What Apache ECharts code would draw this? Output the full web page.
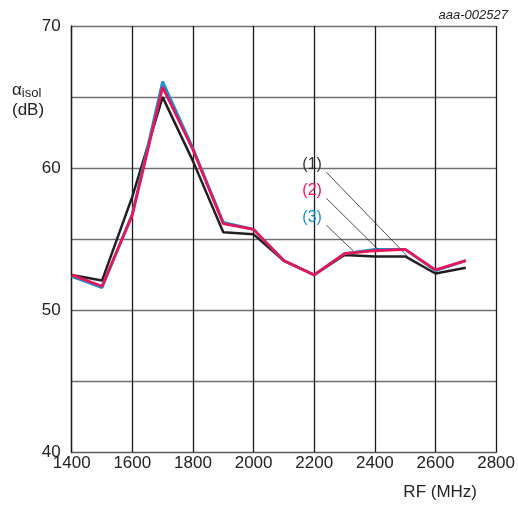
<!DOCTYPE html>
<html>
<head>
<meta charset="utf-8">
<script src="https://cdn.jsdelivr.net/npm/echarts@6/dist/echarts.min.js"></script>
<style>
  html, body { margin: 0; padding: 0; background: #fff; }
  #main { width: 518px; height: 505px; }
</style>
</head>
<body>
<div id="main"></div>
<script>
// RF frequency (MHz)
var freq = [1400, 1500, 1600, 1700, 1800, 1900, 2000, 2100, 2200, 2300, 2400, 2500, 2600, 2700];
// isolation (dB)
var curve1 = [52.5, 52.1, 58.0, 65.0, 60.5, 55.5, 55.35, 53.5, 52.5, 53.9, 53.8, 53.8, 52.6, 53.0];
var curve2 = [52.5, 51.7, 56.7, 65.7, 61.3, 56.1, 55.7, 53.5, 52.5, 54.0, 54.2, 54.3, 52.85, 53.5];
var curve3 = [52.4, 51.6, 56.8, 66.1, 61.4, 56.2, 55.7, 53.5, 52.5, 54.0, 54.3, 54.3, 52.8, 53.5];
var yTickLabels = [40, 50, 60, 70];

// callout labels and leader lines (data coords)
var calloutText = ['(1)', '(2)', '(3)'];
var calloutPos = [[2193, 60.25], [2193, 58.4], [2193, 56.5]];
var leaderFrom = [[2240, 59.72], [2240, 57.89], [2240, 56.0]];
var leaderTo = [[2509, 53.78], [2416, 54.18], [2329, 54.18]];

var colors = ['#231f20', '#e5175a', '#1b8fd2'];
var labelColors = ['#333333', '#e5175a', '#1b8fd2'];
var font = 'Liberation Sans, Arial, sans-serif';

function pairs(ys) {
  return freq.map(function (f, i) { return [f, ys[i]]; });
}

function makeSeries(idx, ys) {
  return {
    type: 'line',
    data: pairs(ys),
    symbol: 'none',
    z: 3 + (idx === 0 ? 0 : idx === 2 ? 1 : 2),
    lineStyle: { color: colors[idx], width: idx === 0 ? 2.5 : 2.8 },
    markPoint: {
      symbol: 'circle',
      symbolSize: 0,
      data: [{ coord: calloutPos[idx] }],
      label: {
        show: true,
        position: 'inside',
        formatter: calloutText[idx],
        color: labelColors[idx],
        fontSize: 16,
        fontFamily: font
      }
    },
    markLine: {
      symbol: 'none',
      silent: true,
      label: { show: false },
      lineStyle: { color: '#222', width: 0.8, type: 'solid' },
      data: [[{ coord: leaderFrom[idx] }, { coord: leaderTo[idx] }]]
    }
  };
}

var chart = echarts.init(document.getElementById('main'));
chart.setOption({
  animation: false,
  grid: { left: 71.7, right: 19.5, top: 26, bottom: 52.3 },
  xAxis: {
    type: 'value',
    min: 1400,
    max: 2800,
    interval: 200,
    axisLine: { show: true, lineStyle: { color: '#555', width: 1 } },
    axisTick: { show: false },
    axisLabel: {
      color: '#222', fontSize: 17, fontFamily: font, margin: 2,
      formatter: function (v) { return String(v); }
    },
    splitLine: { show: true, lineStyle: { color: '#1a1a1a', width: 1.3 } }
  },
  yAxis: {
    type: 'value',
    min: 40,
    max: 70,
    interval: 5,
    axisLine: { show: true, lineStyle: { color: '#1a1a1a', width: 1.3 } },
    axisTick: { show: false },
    axisLabel: {
      color: '#222', fontSize: 17, fontFamily: font, margin: 11,
      formatter: function (v) { return yTickLabels.indexOf(v) >= 0 ? String(v) : ''; }
    },
    splitLine: { show: true, lineStyle: { color: '#707070', width: 1.3 } }
  },
  graphic: [
    {
      type: 'text', left: 12, top: 80,
      style: {
        text: '{a|α}{s|isol}\n{a|(dB)}',
        fill: '#222',
        font: '17px ' + font,
        lineHeight: 20,
        rich: {
          a: { fontSize: 17, fontFamily: font, fill: '#222', lineHeight: 20 },
          s: { fontSize: 13, fontFamily: font, fill: '#222', padding: [6, 0, 0, 0], lineHeight: 20 }
        }
      }
    },
    {
      type: 'text', right: 41, top: 484,
      style: { text: 'RF (MHz)', fill: '#222', font: '17px ' + font }
    },
    {
      type: 'text', right: 10, top: 9,
      style: { text: 'aaa-002527', fill: '#222', font: 'italic 13px ' + font }
    }
  ],
  series: [makeSeries(0, curve1), makeSeries(2, curve3), makeSeries(1, curve2)]
});
</script>
</body>
</html>
